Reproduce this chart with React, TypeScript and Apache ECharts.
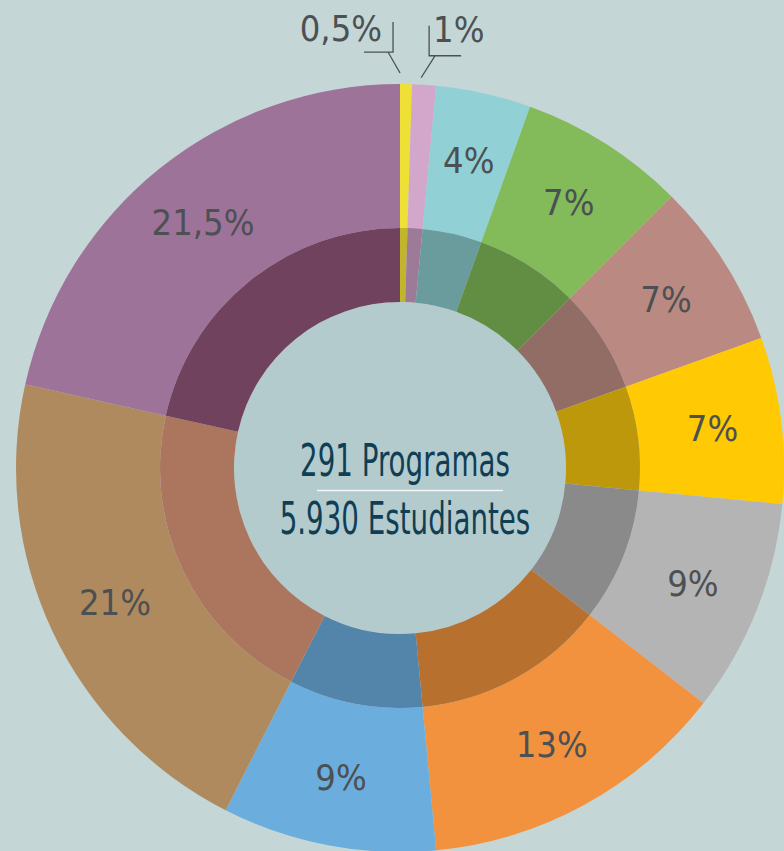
import React, { useEffect, useRef } from "react";
import * as echarts from "echarts";

// ---- data ----
const categories = [
  "Categoría 1", "Categoría 2", "Categoría 3", "Categoría 4", "Categoría 5", "Categoría 6",
  "Categoría 7", "Categoría 8", "Categoría 9", "Categoría 10", "Categoría 11",
];
const values = [0.5, 1, 4, 7, 7, 7, 9, 13, 9, 21, 21.5];
const outerColors = [
  "#EEE035", "#D3A6CC", "#91D0D4", "#83BA5A", "#BA8A82", "#FFC904",
  "#B4B4B4", "#F2923E", "#6BADDD", "#AF8A5F", "#9E7399",
];
const innerColors = [
  "#C2B52B", "#9E7A99", "#6A9C9E", "#628E44", "#916D65", "#BD980B",
  "#8A8A8A", "#B8702E", "#5384AA", "#AC765E", "#71425E",
];
const centerLines = ["291 Programas", "5.930 Estudiantes"];
const outsideLabelIdx = [0, 1];

// ---- style ----
const W = 784;
const H = 851;
const CX = 400;
const CY = 468;
const R_HOLE = 166;
const R_MID = 240;
const R_OUT = 384;
const BG = "#C4D6D6";
const HOLE = "#B3CBCD";
const LABEL_COLOR = "#4C5052";
const CENTER_COLOR = "#0F3E55";
const FONT = "'DejaVu Sans Condensed', 'Liberation Sans Narrow', sans-serif";

const fmt = (v: number) => String(v).replace(".", ",") + "%";

export default function App() {
  const ref = useRef<HTMLDivElement>(null);
  useEffect(() => {
    if (!ref.current) return;
    const chart = echarts.init(ref.current, undefined, { renderer: "svg" });

    const outerData = values.map((v, i) => {
      const item: any = {
        name: categories[i],
        value: v,
        itemStyle: { color: outerColors[i] },
      };
      if (outsideLabelIdx.includes(i)) {
        item.label = { position: "outside", show: true };
        item.labelLine = {
          show: true,
          length: 10,
          length2: 10,
          lineStyle: { color: LABEL_COLOR, width: 1.3 },
        };
      }
      return item;
    });
    const innerData = values.map((v, i) => ({
      name: categories[i],
      value: v,
      itemStyle: { color: innerColors[i] },
    }));

    const centerText = (text: string, y: number) => ({
      type: "text",
      x: CX + 5,
      y,
      scaleX: 0.7,
      style: {
        text,
        fill: CENTER_COLOR,
        font: `44px ${FONT}`,
        textAlign: "center",
        textVerticalAlign: "middle",
      },
      z: 10,
    });

    chart.setOption({
      animation: false,
      backgroundColor: BG,
      graphic: [
        {
          type: "circle",
          shape: { cx: CX, cy: CY, r: R_HOLE },
          style: { fill: HOLE },
          z: 0,
          silent: true,
        },
        centerText(centerLines[0], CY - 7),
        {
          type: "line",
          shape: { x1: CX - 83, y1: CY + 22.5, x2: CX + 103, y2: CY + 22.5 },
          style: { stroke: "#F2F6F6", lineWidth: 1.6 },
          z: 10,
        },
        centerText(centerLines[1], CY + 51),
      ],
      series: [
        {
          type: "pie",
          center: [CX, CY],
          radius: [R_MID, R_OUT],
          startAngle: 90,
          clockwise: true,
          avoidLabelOverlap: false,
          silent: true,
          itemStyle: { borderWidth: 0 },
          label: {
            show: true,
            position: "inside",
            formatter: (p: any) => fmt(p.value),
            color: LABEL_COLOR,
            fontFamily: FONT,
            fontSize: 36,
          },
          labelLine: { show: false },
          labelLayout: (params: any) => {
            const i = params.dataIndex;
            const pts = params.labelLinePoints;
            if (!pts || !outsideLabelIdx.includes(i)) return {};
            const [x0, y0] = pts[0];
            if (i === 0) {
              return {
                x: x0 - 24,
                y: y0 - 56,
                align: "right",
                verticalAlign: "middle",
                labelLinePoints: [
                  [x0 - 6, y0 - 11],
                  [x0 - 18, y0 - 32],
                  [x0 - 42, y0 - 32],
                  [x0 - 13, y0 - 32],
                  [x0 - 13, y0 - 62],
                ],
              };
            }
            return {
              x: x0 + 9,
              y: y0 - 55,
              align: "left",
              verticalAlign: "middle",
              labelLinePoints: [
                [x0 - 3, y0 - 7],
                [x0 + 11, y0 - 29],
                [x0 + 37, y0 - 29],
                [x0 + 5, y0 - 29],
                [x0 + 5, y0 - 59],
              ],
            };
          },
          data: outerData,
        },
        {
          type: "pie",
          center: [CX, CY],
          radius: [R_HOLE, R_MID],
          startAngle: 90,
          clockwise: true,
          silent: true,
          itemStyle: { borderWidth: 0 },
          label: { show: false },
          labelLine: { show: false },
          data: innerData,
        },
      ],
    });
    return () => chart.dispose();
  }, []);
  return (
    <div
      ref={ref}
      style={{ position: "absolute", left: 0, top: 0, width: W, height: H }}
    />
  );
}
